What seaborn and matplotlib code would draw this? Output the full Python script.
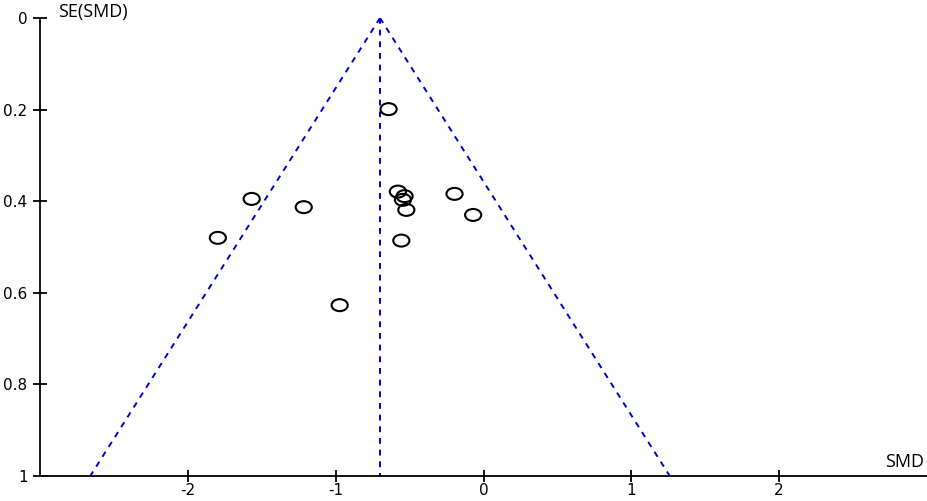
import numpy as np
import pandas as pd
import matplotlib
matplotlib.use("Agg")
import matplotlib.pyplot as plt
import seaborn as sns
from matplotlib.path import Path
from matplotlib.transforms import Affine2D

# Data
smd = [-0.642, -1.568, -1.216, -1.797, -0.973, -0.579, -0.534, -0.545, -0.522, -0.556, -0.196, -0.070]
se_smd = [0.199, 0.395, 0.413, 0.480, 0.627, 0.379, 0.389, 0.397, 0.419, 0.486, 0.384, 0.430]
pooled = -0.70
x_ticks = [-2, -1, 0, 1, 2]
y_ticks = [0, 0.2, 0.4, 0.6, 0.8, 1]
y_tick_labels = ["0", "0.2", "0.4", "0.6", "0.8", "1"]

df = pd.DataFrame({"SMD": smd, "SE": se_smd})

sns.set_style("white")
plt.rcParams["font.family"] = ["DejaVu Sans"]

fig = plt.figure(figsize=(9.27, 5.01), dpi=100)
ax = fig.add_axes([40 / 927, 25 / 501, 887 / 927, 458 / 501])

# funnel
se_max = 1.0
blue = "#0000CC"
ax.plot([pooled, pooled - 1.96 * se_max], [0, se_max], ls=(0, (3, 3)), color=blue, lw=1.4, zorder=1)
ax.plot([pooled, pooled + 1.96 * se_max], [0, se_max], ls=(0, (3, 3)), color=blue, lw=1.4, zorder=1)
ax.plot([pooled, pooled], [0, se_max], ls=(0, (3, 3)), color=blue, lw=1.4, zorder=1)

ellipse = Path.unit_circle().transformed(Affine2D().scale(1.35, 1.0))
sns.scatterplot(data=df, x="SMD", y="SE", ax=ax, marker=ellipse, s=135,
                facecolor="none", edgecolor="black", linewidth=1.5, zorder=3)

ax.set_xlim(-3, 3)
ax.set_ylim(1, 0)
ax.set_xticks(x_ticks)
ax.set_xticklabels([str(t) for t in x_ticks])
ax.set_yticks(y_ticks)
ax.set_yticklabels(y_tick_labels)
ax.set_xlabel("")
ax.set_ylabel("")

for s in ["top", "right"]:
    ax.spines[s].set_visible(False)
for s in ["left", "bottom"]:
    ax.spines[s].set_color("black")
    ax.spines[s].set_linewidth(1.3)

ax.tick_params(axis="x", direction="inout", length=8, width=1.3, labelsize=11, pad=1, colors="black")
ax.tick_params(axis="y", direction="inout", length=10, width=1.3, labelsize=11, pad=4, colors="black")
ax.tick_params(axis="both", which="both", bottom=True, left=True)

ax.text(0.02, 1.013, "SE(SMD)", transform=ax.transAxes, ha="left", va="center",
        fontsize=13, color="black", family=["Open Sans", "DejaVu Sans"])
ax.text(0.997, 0.012, "SMD", transform=ax.transAxes, ha="right", va="bottom",
        fontsize=13, color="black", family=["Open Sans", "DejaVu Sans"])

fig.savefig("out.png", dpi=100)
